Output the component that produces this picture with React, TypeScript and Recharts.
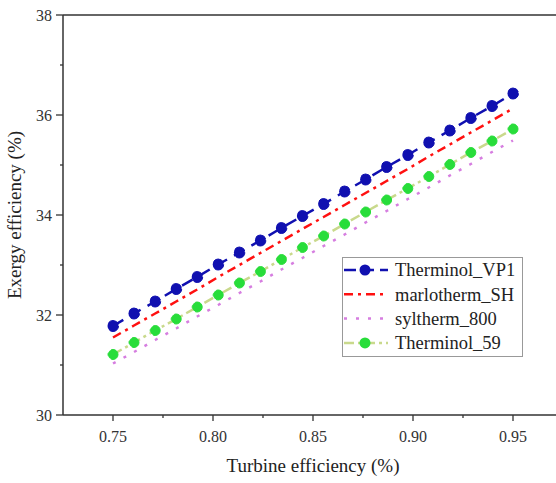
import React from "react";
import { LineChart, Line, XAxis, YAxis, ReferenceLine } from "recharts";

// turbine efficiency (x) and exergy efficiency (%) per working fluid
const turbineEff = [
  0.75, 0.7605, 0.7711, 0.7816, 0.7921, 0.8026, 0.8132, 0.8237, 0.8342, 0.8447,
  0.8553, 0.8658, 0.8763, 0.8868, 0.8974, 0.9079, 0.9184, 0.9289, 0.9395, 0.95,
];
const therminolVP1 = [
  31.78, 32.03, 32.27, 32.52, 32.76, 33.01, 33.25, 33.49, 33.74, 33.98,
  34.22, 34.47, 34.71, 34.96, 35.2, 35.45, 35.69, 35.94, 36.18, 36.43,
];
const marlothermSH = [
  31.55, 31.79, 32.03, 32.27, 32.51, 32.76, 33.0, 33.24, 33.48, 33.72,
  33.96, 34.2, 34.44, 34.68, 34.92, 35.17, 35.41, 35.65, 35.89, 36.13,
];
const syltherm800 = [
  31.03, 31.26, 31.5, 31.73, 31.97, 32.2, 32.44, 32.67, 32.91, 33.14,
  33.38, 33.61, 33.85, 34.08, 34.32, 34.55, 34.79, 35.02, 35.26, 35.49,
];
const therminol59 = [
  31.21, 31.45, 31.69, 31.92, 32.16, 32.4, 32.64, 32.87, 33.11, 33.35,
  33.58, 33.82, 34.06, 34.3, 34.53, 34.77, 35.01, 35.25, 35.48, 35.72,
];

const xTicks = [0.75, 0.775, 0.8, 0.825, 0.85, 0.875, 0.9, 0.925, 0.95];
const xMajor = [0.75, 0.8, 0.85, 0.9, 0.95];
const yTicks = [30, 31, 32, 33, 34, 35, 36, 37, 38];
const yMajor = [30, 32, 34, 36, 38];

const FONT = "Times New Roman, Times, Liberation Serif, serif";
const AXIS = "#333";
const BLUE = "#1010b0";
const RED = "#ff1010";
const VIOLET = "#d67ee0";
const GREEN_LINE = "#c9d98c";
const GREEN_DOT = "#28dd3a";

const data = turbineEff.map((x, i) => ({
  x,
  vp1: therminolVP1[i],
  sh: marlothermSH[i],
  s800: syltherm800[i],
  t59: therminol59[i],
}));

function XTick(props: any) {
  const { x, y, payload } = props;
  const major = xMajor.includes(payload.value);
  return (
    <g>
      <line x1={x} x2={x} y1={y} y2={y + (major ? 6 : 3)} stroke={AXIS} strokeWidth={1.3} />
      {major && (
        <text x={x} y={y + 27} textAnchor="middle" fontFamily={FONT} fontSize={16} fill="#333">
          {payload.value.toFixed(2)}
        </text>
      )}
    </g>
  );
}

function YTick(props: any) {
  const { x, y, payload } = props;
  const major = yMajor.includes(payload.value);
  return (
    <g>
      <line x1={x - (major ? 7 : 3)} x2={x} y1={y} y2={y} stroke={AXIS} strokeWidth={1.3} />
      {major && (
        <text x={x - 11} y={y} dy="0.35em" textAnchor="end" fontFamily={FONT} fontSize={16} fill="#333">
          {payload.value}
        </text>
      )}
    </g>
  );
}

const legendItems = [
  { name: "Therminol_VP1", color: BLUE, dash: "12 6", dot: BLUE },
  { name: "marlotherm_SH", color: RED, dash: "9 5 3 5", dot: null },
  { name: "syltherm_800", color: VIOLET, dash: "3 9", dot: null },
  { name: "Therminol_59", color: GREEN_LINE, dash: "10 4 3 4", dot: GREEN_DOT },
];

function LegendBox() {
  return (
    <svg
      width={181}
      height={100}
      style={{ position: "absolute", left: 342, top: 257 }}
    >
      <rect x={0.5} y={0.5} width={180} height={99} fill="#fff" stroke="#999" strokeWidth={1} />
      {legendItems.map((it, i) => {
        const cy = 13 + i * 24.3;
        return (
          <g key={it.name}>
            <line x1={2} x2={46} y1={cy} y2={cy} stroke={it.color} strokeWidth={2.5} strokeDasharray={it.dash} />
            {it.dot && <circle cx={23} cy={cy} r={5.5} fill={it.dot} />}
            <text x={53} y={cy} dy="0.35em" fontFamily={FONT} fontSize={18.5} fill="#222">
              {it.name}
            </text>
          </g>
        );
      })}
    </svg>
  );
}

export default function App() {
  return (
    <div
      style={{
        position: "absolute",
        left: 0,
        top: 0,
        width: 556,
        height: 483,
        overflow: "hidden",
        background: "#fff",
        fontFamily: FONT,
      }}
    >
      <LineChart
        width={566}
        height={483}
        data={data}
        margin={{ top: 15, right: 3, bottom: 0, left: 0 }}
        style={{ fontFamily: FONT }}
      >
        <XAxis
          dataKey="x"
          type="number"
          domain={[0.725, 0.975]}
          ticks={xTicks}
          interval={0}
          allowDataOverflow
          height={68}
          tickSize={0}
          tickMargin={0}
          tickLine={false}
          tick={<XTick />}
          axisLine={{ stroke: AXIS, strokeWidth: 1.5 }}
          label={{
            value: "Turbine efficiency (%)",
            position: "insideBottom",
            offset: 11,
            fontFamily: FONT,
            fontSize: 19,
            fill: "#222",
          }}
        />
        <YAxis
          type="number"
          domain={[30, 38]}
          ticks={yTicks}
          interval={0}
          allowDataOverflow
          width={63}
          tickSize={0}
          tickMargin={0}
          tickLine={false}
          tick={<YTick />}
          axisLine={{ stroke: AXIS, strokeWidth: 1.5 }}
          label={{
            value: "Exergy efficiency (%)",
            angle: -90,
            position: "insideLeft",
            offset: 14,
            fontFamily: FONT,
            fontSize: 19,
            fill: "#222",
            style: { textAnchor: "middle" },
          }}
        />
        <ReferenceLine y={38} stroke={AXIS} strokeWidth={1.5} />
        <Line
          type="linear"
          dataKey="s800"
          stroke={VIOLET}
          strokeWidth={2.5}
          strokeDasharray="3 9"
          dot={false}
          activeDot={false}
          isAnimationActive={false}
        />
        <Line
          type="linear"
          dataKey="t59"
          stroke={GREEN_LINE}
          strokeWidth={2.5}
          strokeDasharray="10 4 3 4"
          dot={{ r: 5, fill: GREEN_DOT, stroke: GREEN_DOT, strokeWidth: 1 }}
          activeDot={false}
          isAnimationActive={false}
        />
        <Line
          type="linear"
          dataKey="sh"
          stroke={RED}
          strokeWidth={2.5}
          strokeDasharray="9 5 3 5"
          dot={false}
          activeDot={false}
          isAnimationActive={false}
        />
        <Line
          type="linear"
          dataKey="vp1"
          stroke={BLUE}
          strokeWidth={2.5}
          strokeDasharray="12 8"
          dot={{ r: 5.5, fill: BLUE, stroke: BLUE, strokeWidth: 1 }}
          activeDot={false}
          isAnimationActive={false}
        />
      </LineChart>
      <LegendBox />
    </div>
  );
}
